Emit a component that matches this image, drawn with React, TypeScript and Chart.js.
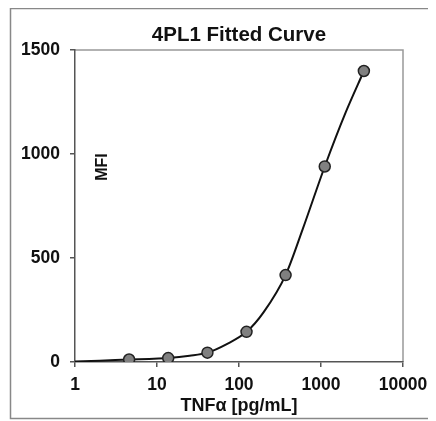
import React, { useEffect, useRef } from "react";
import { Chart, registerables } from "chart.js";

Chart.register(...registerables);

const concentrations = [4.57, 13.7, 41.2, 123.5, 370, 1111, 3333];
const mfiValues = [12, 19, 45, 145, 418, 940, 1399];

const curveX = [1, 2, 4.57, 8, 13.7, 25, 41.2, 70, 123.5, 200, 370, 600, 1111, 2000, 3333];
const curveY = [3, 6, 12, 15, 19, 30, 45, 85, 145, 240, 418, 640, 940, 1200, 1399];

const xTickValues = [1, 10, 100, 1000, 10000];
const yTickValues = [0, 500, 1000, 1500];

const titleText = "4PL1 Fitted Curve";
const xTitle = "TNFα [pg/mL]";
const yTitle = "MFI";

const FAMILY = "'Liberation Sans', Arial, sans-serif";

const decorPlugin = {
  id: "decor",
  beforeDraw(chart: any) {
    const { ctx, chartArea } = chart;
    ctx.save();
    ctx.fillStyle = "#ffffff";
    ctx.fillRect(0, 0, chart.width, chart.height);
    ctx.strokeStyle = "#888";
    ctx.lineWidth = 1.5;
    ctx.strokeRect(2.5, 0.5, chart.width + 10, 410);
    ctx.strokeStyle = "#999";
    ctx.lineWidth = 1.5;
    ctx.beginPath();
    ctx.moveTo(chartArea.left, chartArea.top);
    ctx.lineTo(chartArea.right, chartArea.top);
    ctx.lineTo(chartArea.right, chartArea.bottom);
    ctx.stroke();
    ctx.restore();
  },
  afterDraw(chart: any) {
    const { ctx, chartArea } = chart;
    ctx.save();
    ctx.fillStyle = "#111";
    ctx.textAlign = "center";
    ctx.textBaseline = "middle";
    ctx.font = "bold 20.5px " + FAMILY;
    ctx.fillText(titleText, (chartArea.left + chartArea.right) / 2, 27);
    ctx.font = "bold 18px " + FAMILY;
    ctx.fillText(xTitle, (chartArea.left + chartArea.right) / 2, 398);
    ctx.translate(95, 159);
    ctx.rotate(-Math.PI / 2);
    ctx.font = "bold 16px " + FAMILY;
    ctx.fillText(yTitle, 0, 0);
    ctx.restore();
  },
};

export default function App() {
  const ref = useRef<HTMLCanvasElement>(null);
  useEffect(() => {
    if (!ref.current) return;
    const font = { family: FAMILY, size: 17.5, weight: "bold" as const };
    const chart = new Chart(ref.current, {
      type: "scatter",
      data: {
        datasets: [
          {
            label: "curve",
            data: curveX.map((x, i) => ({ x, y: curveY[i] })),
            showLine: true,
            borderColor: "#111",
            borderWidth: 2,
            pointRadius: 0,
            cubicInterpolationMode: "monotone",
            order: 2,
          },
          {
            label: "points",
            data: concentrations.map((x, i) => ({ x, y: mfiValues[i] })),
            showLine: false,
            pointRadius: 5.5,
            pointBackgroundColor: "#808080",
            pointBorderColor: "#222",
            pointBorderWidth: 1.5,
            order: 1,
          },
        ],
      },
      options: {
        animation: false,
        responsive: false,
        layout: { padding: { top: 42, right: 33, left: 0, bottom: 0 } },
        plugins: { legend: { display: false }, tooltip: { enabled: false }, title: { display: false } },
        scales: {
          x: {
            type: "logarithmic",
            min: 1,
            max: 10000,
            afterBuildTicks: (s: any) => {
              s.ticks = xTickValues.map((v) => ({ value: v }));
            },
            afterFit: (s: any) => {
              s.height = 59;
            },
            ticks: {
              color: "#111",
              font,
              padding: 8,
              maxRotation: 0,
              autoSkip: false,
              callback: (v: any) => String(v),
            },
            grid: { display: true, drawOnChartArea: false, drawTicks: true, tickLength: 5, color: "#555", lineWidth: 1.5 },
            border: { display: true, color: "#555", width: 1.5 },
          },
          y: {
            min: 0,
            max: 1500,
            afterBuildTicks: (s: any) => {
              s.ticks = yTickValues.map((v) => ({ value: v }));
            },
            afterFit: (s: any) => {
              s.width = 67;
            },
            ticks: { color: "#111", font, padding: 10, callback: (v: any) => String(v) },
            grid: { display: true, drawOnChartArea: false, drawTicks: true, tickLength: 5, color: "#555", lineWidth: 1.5 },
            border: { display: true, color: "#555", width: 1.5 },
          },
        },
      },
      plugins: [decorPlugin],
    });
    return () => chart.destroy();
  }, []);
  return <canvas ref={ref} width={428} height={413} style={{ display: "block" }} />;
}
